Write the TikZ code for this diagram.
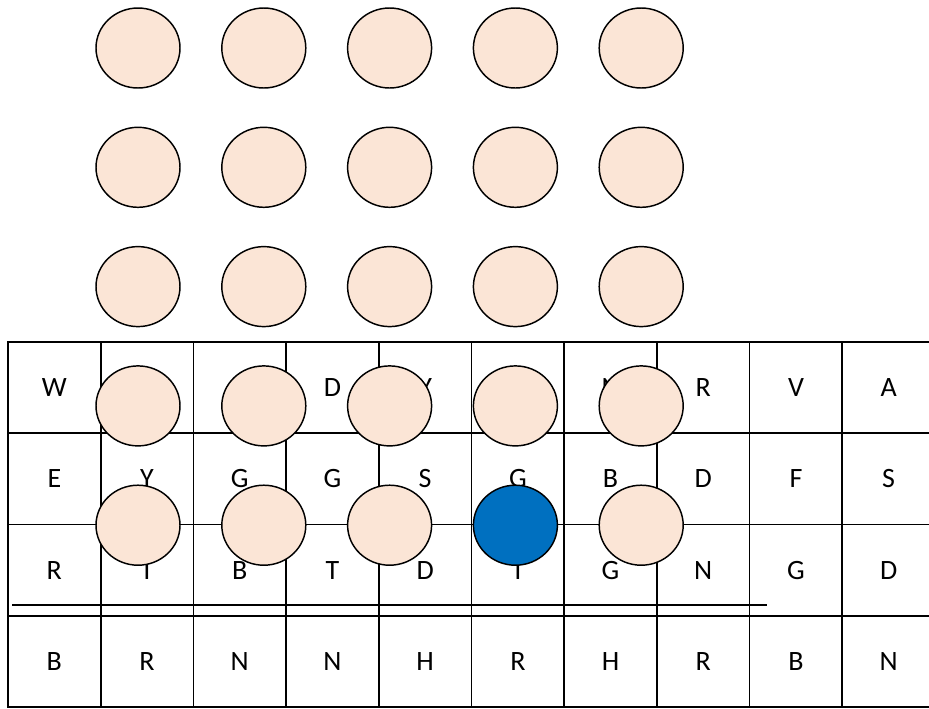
\documentclass[tikz,border=0pt]{standalone}
\usepackage{fontspec}
\setmainfont{Carlito}
\usetikzlibrary{shapes.geometric}
\definecolor{peach}{HTML}{FBE5D6}
\definecolor{ballblue}{HTML}{0070C0}
\begin{document}
\begin{tikzpicture}[
        x=0.75pt, y=-0.75pt,
        cell/.style={rectangle, draw, line width=1.3pt, minimum width=69.5pt, minimum height=68.5pt, inner sep=0pt, font=\fontsize{21}{25}\selectfont},
        disc/.style={ellipse, draw, line width=1.1pt, fill=peach, minimum width=63pt, minimum height=60pt, inner sep=0pt}
    ]
        \clip (0,0) rectangle (929,708);
        \useasboundingbox (0,0) rectangle (929,708);

        % Letter grid
        \foreach \t [count=\c] in {W,{},{},D,Y,{},N,R,V,A}
            \node[cell] (cell-1-\c) at ({54.35+92.7*(\c-1)}, 387.65) {\t};
        \foreach \t [count=\c] in {E,Y,G,G,S,G,B,D,F,S}
            \node[cell] (cell-2-\c) at ({54.35+92.7*(\c-1)}, 478.95) {\t};
        \foreach \t [count=\c] in {R,T,B,T,D,T,G,N,G,D}
            \node[cell] (cell-3-\c) at ({54.35+92.7*(\c-1)}, 570.25) {\t};
        \foreach \t [count=\c] in {B,R,N,N,H,R,H,R,B,N}
            \node[cell] (cell-4-\c) at ({54.35+92.7*(\c-1)}, 661.55) {\t};

        % Rule above last row
        \coordinate (rule-start) at (12,605);
        \coordinate (rule-end) at (767,605);
        \draw[line width=1.2pt] (rule-start) -- (rule-end);

        % Discs
        \foreach \j in {1,...,5}
            \foreach \i in {1,...,5} {
                \def\discfill{peach}
                \ifnum\j=5 \ifnum\i=4 \def\discfill{ballblue}\fi\fi
                \node[disc, fill=\discfill] (disc-\j-\i) at ({138+125.8*(\i-1)}, {48+119.3*(\j-1)}) {};
            }

    \end{tikzpicture}
\end{document}
